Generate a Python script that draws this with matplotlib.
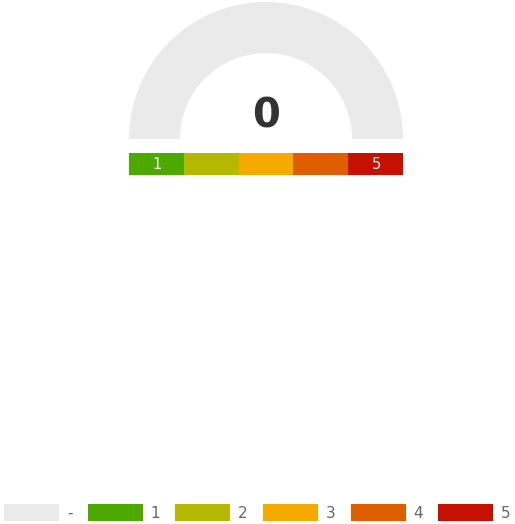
import matplotlib
matplotlib.use("Agg")
import matplotlib.pyplot as plt
from matplotlib.patches import Wedge, Rectangle

# data
gauge_value = 0
band_labels = ['1', '2', '3', '4', '5']
band_colors = ['#4da800', '#b5b800', '#f5aa00', '#de5e00', '#c61100']
legend_labels = ['-', '1', '2', '3', '4', '5']
legend_colors = ['#eaeaea'] + band_colors

fig = plt.figure(figsize=(5.15, 5.24), dpi=100)
ax = fig.add_axes([0, 0, 1, 1])
ax.set_xlim(0, 515)
ax.set_ylim(524, 0)
ax.axis('off')

# gauge arc (empty, value 0)
cx, cy, r_out, r_in = 266, 139, 137, 86
ax.add_patch(Wedge((cx, cy), r_out, 180, 360, width=r_out - r_in,
                   facecolor='#eaeaea', edgecolor='none'))
ax.text(cx, cy - 22, str(gauge_value), ha='center', va='center',
        fontsize=29, fontweight='bold', color='#333333')

# colour band under the gauge
left0, seg_w = 129, 274 / len(band_labels)
lefts = [left0 + i * seg_w for i in range(len(band_labels))]
ax.barh([164] * len(band_labels), [seg_w] * len(band_labels), left=lefts,
        height=22, color=band_colors, edgecolor='none')
for i in (0, len(band_labels) - 1):
    ax.text(lefts[i] + seg_w / 2 + 1, 164.5, band_labels[i], ha='center', va='center',
            fontsize=10.5, color='#f0f0f0')

# legend, laid out left to right by measured text width
renderer = fig.canvas.get_renderer()
x0 = 4
for lab, col in zip(legend_labels, legend_colors):
    ax.add_patch(Rectangle((x0, 504), 55, 17, facecolor=col, edgecolor='none'))
    t = ax.text(x0 + 63, 513, lab, ha='left', va='center', fontsize=11, color='#666666')
    w = t.get_window_extent(renderer).width
    x0 = x0 + 63 + w + 15

fig.savefig('out.png', dpi=100)
